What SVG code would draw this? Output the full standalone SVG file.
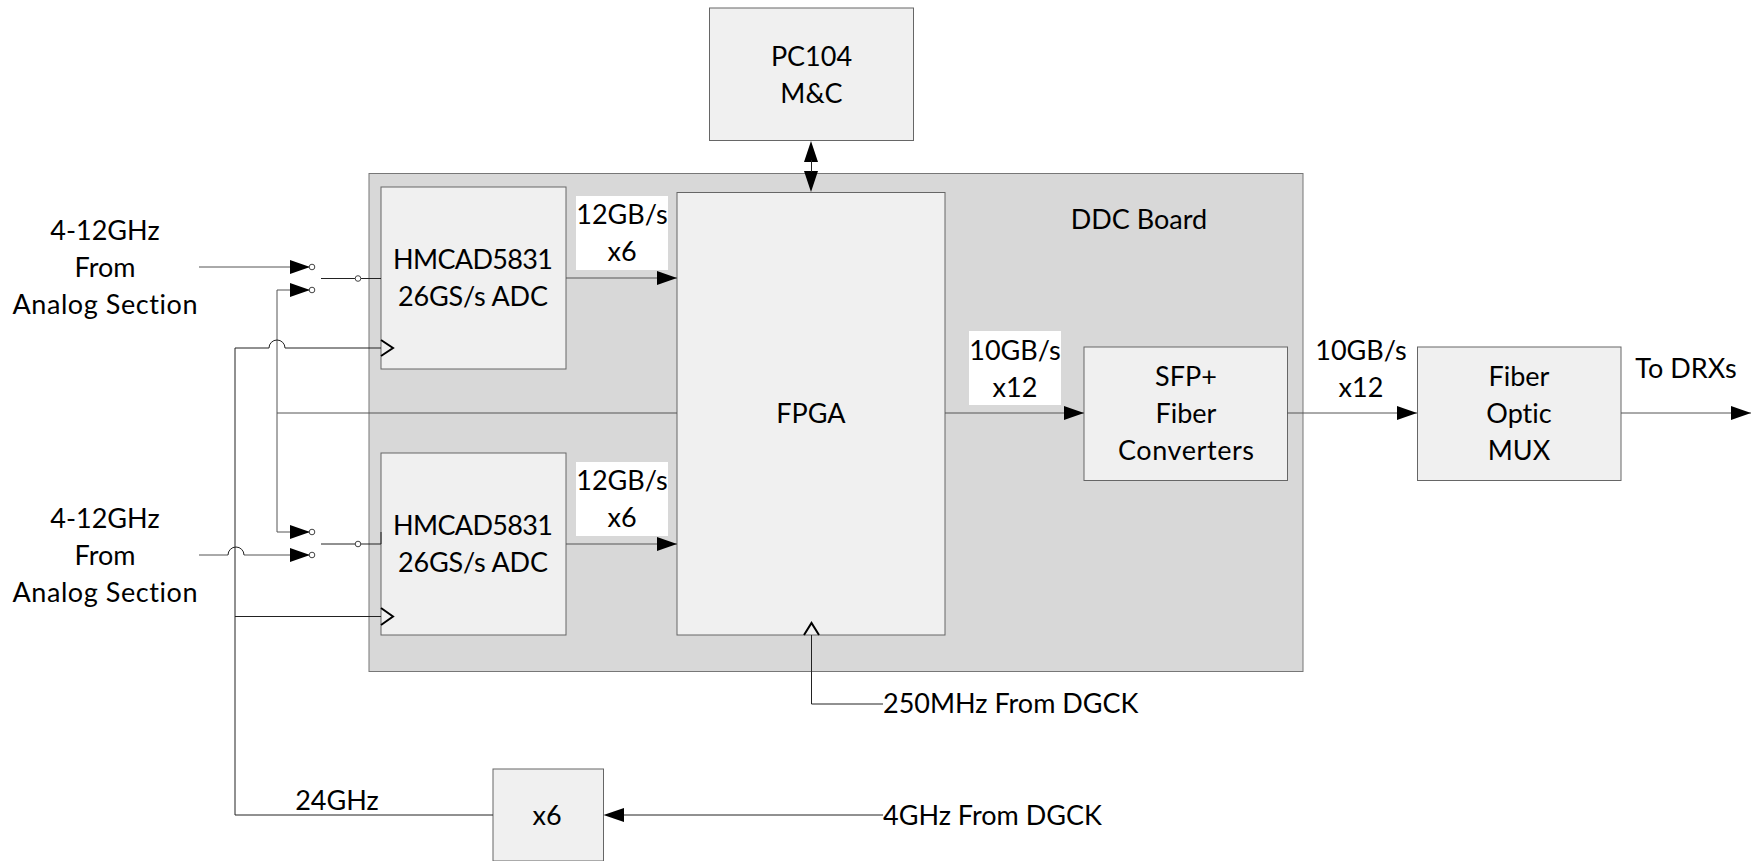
<svg xmlns="http://www.w3.org/2000/svg" width="1757" height="861" viewBox="0 0 1757 861">
<style>
text{font-family:"Lato","Noto Sans",sans-serif;font-size:27px;font-variant-ligatures:none;fill:#000;text-anchor:middle}
.s{text-anchor:start}
.b{fill:#f0f0f0;stroke:#666;stroke-width:1}
.w{stroke:#555;stroke-width:1;fill:none}
.o{fill:#fff;stroke:#444;stroke-width:1}
.n{stroke:#222;stroke-width:1;fill:none}
</style>
<defs>
<marker id="a" markerUnits="userSpaceOnUse" markerWidth="20" markerHeight="14" refX="20" refY="7" orient="auto"><path d="M0 0L20 7L0 14Z" fill="#000"/></marker>
</defs>
<g id="ddc"><rect x="369" y="173.500" width="934" height="498" fill="#d8d8d8" stroke="#777"/><text x="1139" y="229">DDC Board</text></g>
<g id="pc104"><rect class="b" x="709.500" y="8" width="204" height="132.500"/><text x="811.500" y="66">PC104</text><text x="811.500" y="103">M&amp;C</text></g>
<g id="adc1"><rect class="b" x="381" y="187" width="185" height="182"/><text x="473" y="269" textLength="160">HMCAD5831</text><text x="473" y="306" textLength="150">26GS/s ADC</text></g>
<g id="adc2"><rect class="b" x="381" y="453" width="185" height="182"/><text x="473" y="535" textLength="160">HMCAD5831</text><text x="473" y="572" textLength="150">26GS/s ADC</text></g>
<g id="fpga"><rect class="b" x="677" y="192.500" width="268" height="442.500"/><text x="811" y="423">FPGA</text></g>
<g id="sfp"><rect class="b" x="1084" y="347" width="203.500" height="133.500"/><text x="1186" y="386">SFP+</text><text x="1186" y="423">Fiber</text><text x="1186" y="460" textLength="136">Converters</text></g>
<g id="mux"><rect class="b" x="1417.500" y="347" width="203.500" height="133.500"/><text x="1519" y="386">Fiber</text><text x="1519" y="423">Optic</text><text x="1519" y="460">MUX</text></g>
<g id="x6"><rect class="b" x="493" y="769" width="110.500" height="92"/><text x="547" y="825">x6</text></g>
<g id="labels">
<rect x="576" y="196" width="92" height="74" fill="#fff"/><rect x="576" y="462" width="92" height="74" fill="#fff"/><rect x="969" y="331" width="92" height="74" fill="#fff"/>
<text x="105" y="240">4-12GHz</text><text x="105" y="277">From</text><text x="105" y="314" textLength="185">Analog Section</text>
<text x="105" y="528">4-12GHz</text><text x="105" y="565">From</text><text x="105" y="602" textLength="185">Analog Section</text>
<text x="622" y="224">12GB/s</text><text x="622" y="261">x6</text>
<text x="622" y="490">12GB/s</text><text x="622" y="527">x6</text>
<text x="1015" y="360">10GB/s</text><text x="1015" y="397">x12</text>
<text x="1361" y="360">10GB/s</text><text x="1361" y="397">x12</text>
<text x="1686" y="378">To DRXs</text>
<text class="s" x="883" y="713">250MHz From DGCK</text>
<text class="s" x="883" y="825">4GHz From DGCK</text>
<text x="337" y="810">24GHz</text>
</g>
<g id="connectors">
<path class="w" d="M199 267H310" marker-end="url(#a)"/>
<path class="w" d="M677 413H277V290H310" marker-end="url(#a)"/>
<path class="w" d="M277 413V532H310" marker-end="url(#a)"/>
<path class="w" d="M199 555H228M244 555H310" marker-end="url(#a)"/>
<path class="n" d="M228 555A8 8 0 0 1 244 555"/>
<path class="n" d="M321 278.500H381M321 544H381M381 544V532"/>
<circle class="o" cx="358" cy="278.500" r="2.800"/><circle class="o" cx="358" cy="544" r="2.800"/>
<circle class="o" cx="312" cy="267" r="2.800"/><circle class="o" cx="312" cy="290" r="2.800"/><circle class="o" cx="312" cy="532" r="2.800"/><circle class="o" cx="312" cy="555" r="2.800"/>
<path class="n" d="M235 815V348H269M285 348H381M269 348A8 8 0 0 1 285 348M235 616.500H381M235 815H493"/>
<path d="M381 340L393 348L381 356M381 608L393 616.500L381 625" fill="none" stroke="#000" stroke-width="2"/>
<path class="w" d="M566 278H677" marker-end="url(#a)"/>
<path class="w" d="M566 544H677" marker-end="url(#a)"/>
<path class="w" d="M945 413H1084" marker-end="url(#a)"/>
<path class="w" d="M1287 413H1417" marker-end="url(#a)"/>
<path class="w" d="M1621 413H1751" marker-end="url(#a)"/>
<path d="M603.500 815L624 808V822Z" fill="#000"/><path class="n" d="M624 815H883"/>
<path d="M811 141L804 162H818ZM811 192L804 171H818Z" fill="#000"/><path class="n" d="M811.500 160V172"/>
<path class="n" d="M811.500 635V704H883"/>
<path d="M804 635L811.500 623L819 635" fill="none" stroke="#000" stroke-width="2"/>
</g>
</svg>
